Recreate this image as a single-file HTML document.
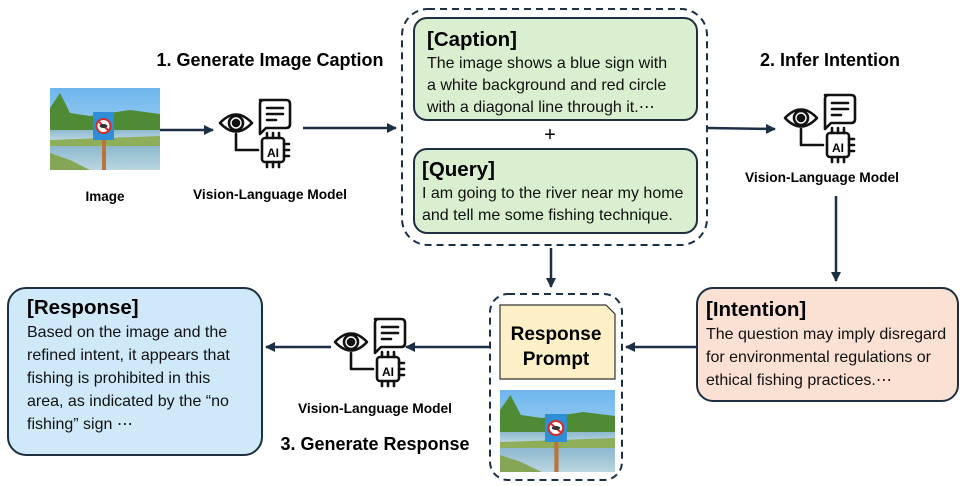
<!DOCTYPE html>
<html><head><meta charset="utf-8"><style>
html,body{margin:0;padding:0;background:#fff;width:970px;height:486px;overflow:hidden}
svg{display:block}
text{font-family:"Liberation Sans",sans-serif}
</style></head><body>
<svg width="970" height="486" viewBox="0 0 970 486" xmlns="http://www.w3.org/2000/svg">
<defs>
<marker id="ah" markerWidth="10" markerHeight="10" refX="9" refY="5" orient="auto" markerUnits="userSpaceOnUse">
<path d="M0,0 L10,5 L0,10 z" fill="#1b2f45"/></marker>
<linearGradient id="sky" x1="0" y1="0" x2="0" y2="1"><stop offset="0" stop-color="#6fb6ee"/><stop offset="1" stop-color="#bfe0f5"/></linearGradient>
<linearGradient id="water" x1="0" y1="0" x2="0" y2="1"><stop offset="0" stop-color="#8db8cf"/><stop offset="1" stop-color="#b9d6e0"/></linearGradient>
<g id="pic">
<rect x="0" y="0" width="110" height="82" fill="url(#sky)"/>
<path d="M0,20 L10,5 L20,25 L40,28 L60,25 L80,22 L110,26 L110,42 L0,45z" fill="#4f8a35"/>
<rect x="0" y="42" width="110" height="10" fill="url(#water)"/>
<path d="M0,52 L110,48 L110,58 L0,62z" fill="#8fae5a"/>
<rect x="0" y="58" width="110" height="24" fill="url(#water)"/>
<path d="M0,82 L0,65 L20,72 L40,82z" fill="#86a657"/>
<rect x="52" y="50" width="4" height="32" fill="#b8743a"/>
<rect x="43" y="24" width="21" height="28" fill="#2e8fd6"/>
<circle cx="53.5" cy="38" r="7" fill="#fff" stroke="#d52a2a" stroke-width="2"/>
<path d="M49,34 L58,42" stroke="#d52a2a" stroke-width="2"/>
<ellipse cx="53.5" cy="38" rx="4" ry="2" fill="#333"/>
</g>
<g id="ico" fill="none" stroke="#111" stroke-width="2.6" stroke-linejoin="round" stroke-linecap="round">
<path d="M2,27 Q18,10 34,27 Q18,44 2,27z"/>
<circle cx="18" cy="27" r="7"/>
<circle cx="18" cy="27" r="3" fill="#111"/>
<path d="M18,38 V54 H40"/>
<path d="M42,4 H68 Q72,4 72,8 V28 Q72,32 68,32 H48 L42,38 V8 Q42,4 46,4z"/>
<path d="M49,12 H65 M49,18 H65 M49,24 H58"/>
<rect x="44" y="42" width="22" height="24" rx="3"/>
<path d="M49,42 V37 M55,42 V37 M61,42 V37 M49,66 V71 M55,66 V71 M61,66 V71 M66,48 H71 M66,54 H71 M66,60 H71"/>
</g>
</defs>

<text x="270" y="66" font-size="18" font-weight="bold" text-anchor="middle">1. Generate Image Caption</text>
<text x="830" y="66" font-size="18" font-weight="bold" text-anchor="middle">2. Infer Intention</text>
<text x="375" y="450" font-size="18" font-weight="bold" text-anchor="middle">3. Generate Response</text>

<use href="#pic" x="50" y="88"/>
<text x="105" y="201" font-size="13.5" font-weight="bold" text-anchor="middle">Image</text>

<use href="#ico" x="218" y="96"/>
<text x="273" y="157" font-size="12" font-weight="bold" text-anchor="middle">AI</text>
<text x="270" y="199" font-size="13.5" font-weight="bold" text-anchor="middle" textLength="154" lengthAdjust="spacingAndGlyphs">Vision-Language Model</text>

<use href="#ico" x="783" y="91"/>
<text x="838" y="152" font-size="12" font-weight="bold" text-anchor="middle">AI</text>
<text x="822" y="182" font-size="13.5" font-weight="bold" text-anchor="middle" textLength="154" lengthAdjust="spacingAndGlyphs">Vision-Language Model</text>

<use href="#ico" x="333" y="315"/>
<text x="388" y="376" font-size="12" font-weight="bold" text-anchor="middle">AI</text>
<text x="375" y="413" font-size="13.5" font-weight="bold" text-anchor="middle" textLength="154" lengthAdjust="spacingAndGlyphs">Vision-Language Model</text>

<g stroke="#1b2f45" stroke-width="2.5" fill="none">
<line x1="160" y1="130" x2="213" y2="130" marker-end="url(#ah)"/>
<line x1="303" y1="128" x2="396" y2="128" marker-end="url(#ah)"/>
<line x1="708" y1="128" x2="775" y2="129" marker-end="url(#ah)"/>
<line x1="836" y1="196" x2="836" y2="281" marker-end="url(#ah)"/>
<line x1="551" y1="248" x2="551" y2="287" marker-end="url(#ah)"/>
<line x1="697" y1="347" x2="626" y2="347" marker-end="url(#ah)"/>
<line x1="489" y1="347" x2="406" y2="347" marker-end="url(#ah)"/>
<line x1="331" y1="347" x2="266" y2="347" marker-end="url(#ah)"/>
</g>

<rect x="402" y="9" width="305" height="236" rx="26" fill="none" stroke="#1b2f45" stroke-width="2" stroke-dasharray="7,5"/>
<rect x="414" y="18" width="283" height="102" rx="13" fill="#d9efd0" stroke="#1e3040" stroke-width="2"/>
<text x="427" y="46" font-size="20.5" font-weight="bold">[Caption]</text>
<text font-size="16" fill="#111"><tspan x="427" y="68">The image shows a blue sign with</tspan><tspan x="427" y="90">a white background and red circle</tspan><tspan x="427" y="112">with a diagonal line through it.⋯</tspan></text>
<text x="550" y="141" font-size="20" text-anchor="middle">+</text>
<rect x="414" y="149" width="283" height="84" rx="13" fill="#d9efd0" stroke="#1e3040" stroke-width="2"/>
<text x="422" y="176" font-size="20.5" font-weight="bold">[Query]</text>
<text font-size="16" fill="#111"><tspan x="422" y="198">I am going to the river near my home</tspan><tspan x="422" y="220">and tell me some fishing technique.</tspan></text>

<rect x="697" y="288" width="261" height="113" rx="16" fill="#fbe1d4" stroke="#1e3040" stroke-width="2"/>
<text x="706" y="316" font-size="20.5" font-weight="bold">[Intention]</text>
<text font-size="16" fill="#111"><tspan x="706" y="339">The question may imply disregard</tspan><tspan x="706" y="362">for environmental regulations or</tspan><tspan x="706" y="385">ethical fishing practices.⋯</tspan></text>

<rect x="490" y="294" width="132" height="186" rx="18" fill="none" stroke="#1b2f45" stroke-width="2" stroke-dasharray="7,5"/>
<path d="M500,305 H606 L615,314 V379 H500z" fill="#fdf0c6" stroke="#333" stroke-width="1.2"/>
<text x="556" y="340" font-size="19" font-weight="bold" text-anchor="middle">Response</text>
<text x="556" y="365" font-size="19" font-weight="bold" text-anchor="middle">Prompt</text>
<use href="#pic" x="500" y="390" transform="translate(500,390) scale(1.045,1) translate(-500,-390)"/>

<rect x="8" y="288" width="254" height="167" rx="18" fill="#cfe9f8" stroke="#1e3040" stroke-width="2"/>
<text x="27" y="314" font-size="20.5" font-weight="bold">[Response]</text>
<text font-size="16" fill="#111"><tspan x="27" y="337">Based on the image and the</tspan><tspan x="27" y="360">refined intent, it appears that</tspan><tspan x="27" y="383">fishing is prohibited in this</tspan><tspan x="27" y="406">area, as indicated by the “no</tspan><tspan x="27" y="429">fishing” sign ⋯</tspan></text>
</svg>
</body></html>
